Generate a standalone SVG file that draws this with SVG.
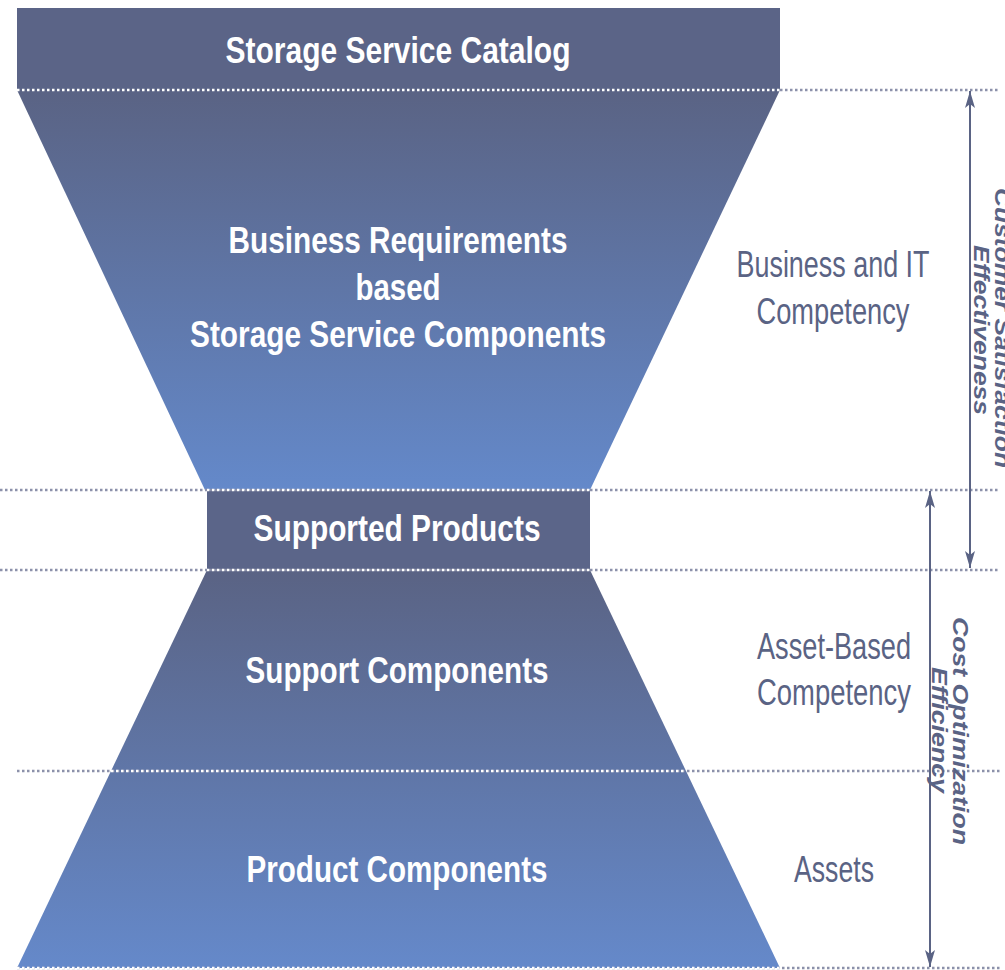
<svg xmlns="http://www.w3.org/2000/svg" width="1005" height="970" viewBox="0 0 1005 970">
<defs>
<linearGradient id="gTop" x1="0" y1="90" x2="0" y2="490" gradientUnits="userSpaceOnUse">
<stop offset="0" stop-color="#5a6384"/>
<stop offset="1" stop-color="#6489ca"/>
</linearGradient>
<linearGradient id="gBot" x1="0" y1="570" x2="0" y2="968" gradientUnits="userSpaceOnUse">
<stop offset="0" stop-color="#5a6384"/>
<stop offset="1" stop-color="#6589ca"/>
</linearGradient>
<marker id="ah" viewBox="-18 -6 20 12" refX="0" refY="0" markerWidth="20" markerHeight="12" markerUnits="userSpaceOnUse" orient="auto-start-reverse">
<path d="M0,0 L-17,-5 L-13,0 L-17,5 Z" fill="#5a6384"/>
</marker>
</defs>
<style>
.title{font-family:"Liberation Sans",Arial,sans-serif;font-weight:bold;font-size:36px;fill:#ffffff;text-anchor:middle}
.side{font-family:"Liberation Sans",Arial,sans-serif;font-size:36px;fill:#5a6384;text-anchor:middle}
.rot{font-family:"Liberation Sans",Arial,sans-serif;font-weight:bold;font-style:italic;font-size:22px;fill:#5a6384;text-anchor:middle}
.dg{stroke:#8c91aa;stroke-width:2.5;stroke-dasharray:2.5 2.5;fill:none}
.dw{stroke:#ffffff;stroke-width:2.5;stroke-dasharray:2.5 2.5;fill:none}
.arr{stroke:#5a6384;stroke-width:2;fill:none}
</style>
<rect width="1005" height="970" fill="#ffffff"/>

<g id="catalog">
<rect x="17" y="8" width="763" height="82" fill="#5b6487"/>
<text class="title" x="398" y="63" textLength="345" lengthAdjust="spacingAndGlyphs">Storage Service Catalog</text>
</g>

<g id="business-components">
<polygon points="17,90 780,90 590,490 205,490" fill="url(#gTop)"/>
<text class="title" x="398" y="253" textLength="339" lengthAdjust="spacingAndGlyphs">Business Requirements</text>
<text class="title" x="398" y="300" textLength="85" lengthAdjust="spacingAndGlyphs">based</text>
<text class="title" x="398" y="347" textLength="416" lengthAdjust="spacingAndGlyphs">Storage Service Components</text>
</g>

<g id="supported-products">
<rect x="207" y="490" width="383" height="80" fill="#5b6589"/>
<text class="title" x="397" y="541" textLength="287" lengthAdjust="spacingAndGlyphs">Supported Products</text>
</g>

<g id="support-components">
<polygon points="207,570 590,570 686,771 111,771" fill="url(#gBot)"/>
<text class="title" x="397" y="683" textLength="303" lengthAdjust="spacingAndGlyphs">Support Components</text>
</g>

<g id="product-components">
<polygon points="111,771 686,771 780,968 17,968" fill="url(#gBot)"/>
<text class="title" x="397" y="882" textLength="301" lengthAdjust="spacingAndGlyphs">Product Components</text>
</g>

<g id="dividers">
<line class="dg" x1="780" y1="90" x2="1000" y2="90"/>
<line class="dw" x1="17" y1="90" x2="780" y2="90"/>
<line class="dg" x1="0" y1="490" x2="1000" y2="490"/>
<line class="dw" x1="207" y1="490" x2="590" y2="490"/>
<line class="dg" x1="0" y1="570" x2="1000" y2="570"/>
<line class="dw" x1="207" y1="570" x2="590" y2="570"/>
<line class="dg" x1="17" y1="771" x2="1000" y2="771"/>
<line class="dw" x1="111" y1="771" x2="686" y2="771"/>
<line class="dg" x1="17" y1="968" x2="1000" y2="968"/>
<line class="dw" x1="17" y1="968" x2="780" y2="968"/>
</g>

<g id="label-business-it">
<text class="side" x="833" y="277" textLength="193" lengthAdjust="spacingAndGlyphs">Business and IT</text>
<text class="side" x="833" y="324" textLength="153" lengthAdjust="spacingAndGlyphs">Competency</text>
</g>
<g id="label-asset-based">
<text class="side" x="834" y="659" textLength="154" lengthAdjust="spacingAndGlyphs">Asset-Based</text>
<text class="side" x="834" y="705" textLength="154" lengthAdjust="spacingAndGlyphs">Competency</text>
</g>
<g id="label-assets">
<text class="side" x="834" y="882" textLength="80" lengthAdjust="spacingAndGlyphs">Assets</text>
</g>

<g id="connectors">
<line class="arr" x1="970" y1="91" x2="970" y2="568" marker-start="url(#ah)" marker-end="url(#ah)"/>
<line class="arr" x1="930" y1="491" x2="930" y2="967" marker-start="url(#ah)" marker-end="url(#ah)"/>
</g>

<g id="label-effectiveness">
<text class="rot" transform="translate(995,328) rotate(90)" textLength="280" lengthAdjust="spacingAndGlyphs">Customer Satisfaction</text>
<text class="rot" transform="translate(974,330) rotate(90)" textLength="170" lengthAdjust="spacingAndGlyphs">Effectiveness</text>
</g>
<g id="label-efficiency">
<text class="rot" transform="translate(953,731) rotate(90)" textLength="228" lengthAdjust="spacingAndGlyphs">Cost Optimization</text>
<text class="rot" transform="translate(932,730) rotate(90)" textLength="126" lengthAdjust="spacingAndGlyphs">Efficiency</text>
</g>
</svg>
